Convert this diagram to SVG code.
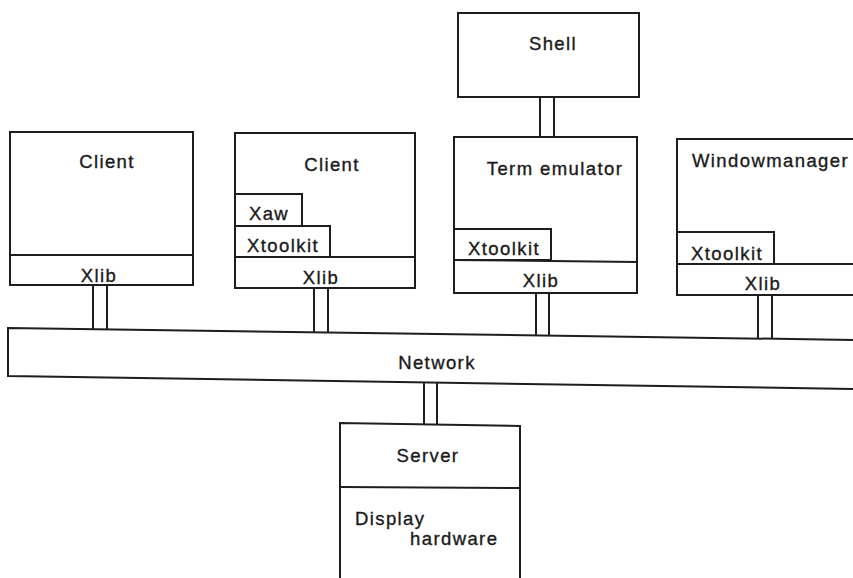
<svg xmlns="http://www.w3.org/2000/svg" width="853" height="578" viewBox="0 0 853 578">
<style>
.box{fill:none;stroke:#1e1e1e;stroke-width:2;stroke-linejoin:miter}
.ln{stroke:#1e1e1e;stroke-width:2;fill:none}
text{font-family:"Liberation Sans",Arial,sans-serif;font-size:18.5px;letter-spacing:1.4px;fill:#1a1a1a;stroke:#1a1a1a;stroke-width:0.35px}
.m{text-anchor:middle}
</style>
<rect width="853" height="578" fill="#ffffff"/>
<g id="connectors">
<line class="ln" x1="93" y1="285" x2="93" y2="329"/><line class="ln" x1="107" y1="285" x2="107" y2="329"/>
<line class="ln" x1="314" y1="288" x2="314" y2="332"/><line class="ln" x1="328" y1="288" x2="328" y2="332"/>
<line class="ln" x1="536" y1="293" x2="536" y2="335"/><line class="ln" x1="549" y1="293" x2="549" y2="335"/>
<line class="ln" x1="758" y1="295" x2="758" y2="338"/><line class="ln" x1="772" y1="295" x2="772" y2="338"/>
<line class="ln" x1="540" y1="97" x2="540" y2="137"/><line class="ln" x1="554" y1="97" x2="554" y2="137"/>
<line class="ln" x1="424" y1="382" x2="424" y2="424"/><line class="ln" x1="437" y1="382" x2="437" y2="424"/>
</g>
<g id="client1">
<rect class="box" x="10" y="132" width="183" height="153"/>
<line class="ln" x1="10" y1="255" x2="193" y2="255"/>
<text class="m" x="107" y="168">Client</text>
<text class="m" x="99" y="282">Xlib</text>
</g>
<g id="client2">
<rect class="box" x="235" y="133" width="180" height="155"/>
<rect class="box" x="235" y="194" width="67" height="32"/>
<rect class="box" x="235" y="226" width="95" height="31"/>
<line class="ln" x1="235" y1="257" x2="415" y2="257"/>
<text class="m" x="332" y="171">Client</text>
<text class="m" x="269" y="220">Xaw</text>
<text class="m" x="283" y="252">Xtoolkit</text>
<text class="m" x="321" y="284">Xlib</text>
</g>
<g id="shell">
<rect class="box" x="458" y="13" width="181" height="84"/>
<text class="m" x="553" y="50">Shell</text>
</g>
<g id="term">
<rect class="box" x="454" y="137" width="183" height="156"/>
<rect class="box" x="454" y="229" width="97" height="31"/>
<line class="ln" x1="454" y1="260" x2="637" y2="262"/>
<text class="m" x="555" y="175">Term emulator</text>
<text class="m" x="504" y="255">Xtoolkit</text>
<text class="m" x="541" y="287">Xlib</text>
</g>
<g id="windowmanager">
<path class="box" d="M860 139 H677 V295 H860"/>
<rect class="box" x="677" y="232" width="97" height="32"/>
<line class="ln" x1="677" y1="264" x2="860" y2="264"/>
<text x="692" y="167">Windowmanager</text>
<text class="m" x="727" y="260">Xtoolkit</text>
<text class="m" x="763" y="290">Xlib</text>
</g>
<g id="network">
<polygon class="box" points="8,328 860,340 860,389 8,376"/>
<text class="m" x="437" y="369">Network</text>
</g>
<g id="server">
<path class="box" d="M340 590 V423 L520 426 V590"/>
<line class="ln" x1="340" y1="487" x2="520" y2="488"/>
<text class="m" x="428" y="462">Server</text>
<text x="355" y="525">Display</text>
<text x="410" y="545">hardware</text>
</g>
</svg>
